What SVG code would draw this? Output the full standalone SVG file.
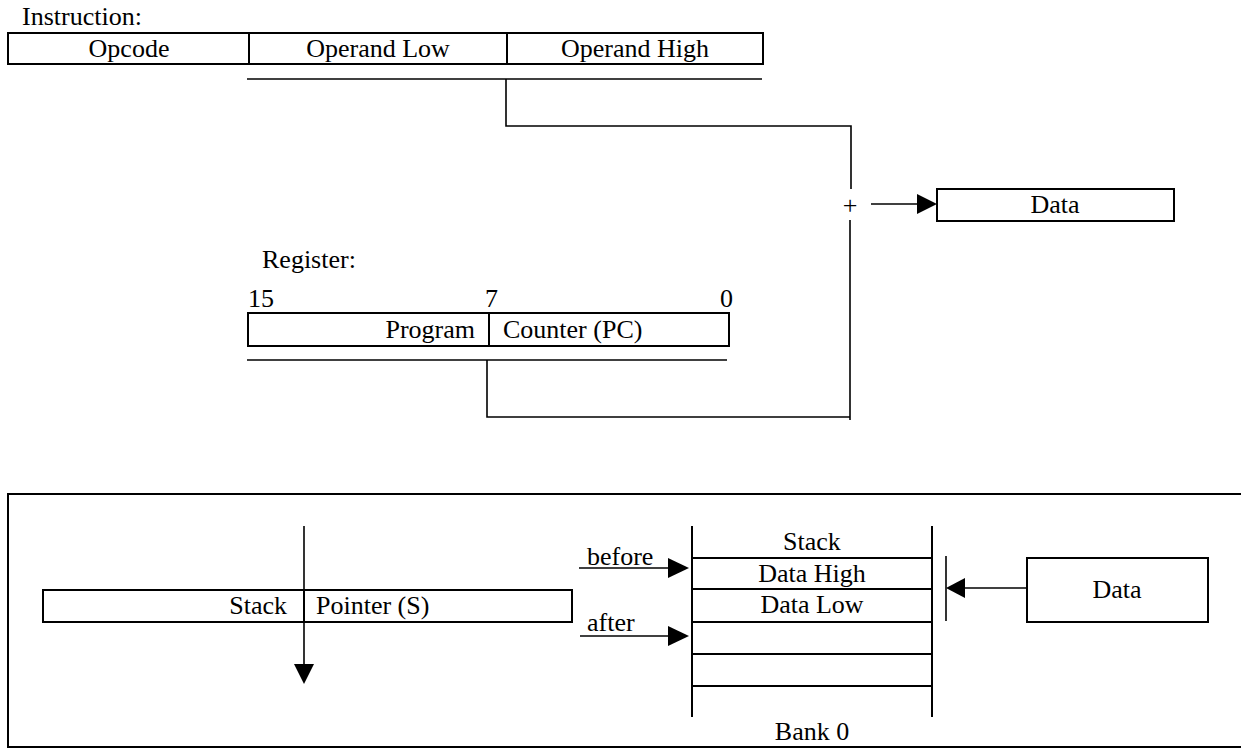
<svg xmlns="http://www.w3.org/2000/svg" width="1241" height="748" viewBox="0 0 1241 748">
<style>
text{font-family:"Liberation Serif","Times New Roman",serif;font-size:26px;fill:#000}
.c{text-anchor:middle}
.e{text-anchor:end}
.box{fill:none;stroke:#000;stroke-width:2}
.ln{fill:none;stroke:#000;stroke-width:1.6}
.ah{fill:#000;stroke:none}
</style>
<rect width="1241" height="748" fill="#fff"/>

<g id="instruction">
<text x="22" y="25">Instruction:</text>
<rect class="box" x="8" y="33" width="755" height="31"/>
<line class="box" x1="249" y1="33" x2="249" y2="64"/>
<line class="box" x1="507" y1="33" x2="507" y2="64"/>
<text class="c" x="129" y="57">Opcode</text>
<text class="c" x="378" y="57">Operand Low</text>
<text class="c" x="635" y="57">Operand High</text>
</g>

<g id="plus">
<text class="c" x="850" y="214">+</text>
</g>

<g id="data-top">
<rect class="box" x="937" y="189" width="237" height="32"/>
<text class="c" x="1055" y="213">Data</text>
</g>

<g id="register">
<text x="262" y="268">Register:</text>
<text x="248" y="307">15</text>
<text x="485" y="307">7</text>
<text class="e" x="733" y="307">0</text>
<rect class="box" x="248" y="313" width="481" height="33"/>
<line class="box" x1="489" y1="313" x2="489" y2="346"/>
<text class="e" x="475" y="338">Program</text>
<text x="503" y="338">Counter (PC)</text>
</g>

<g id="frame">
<polyline class="box" points="1241,494 8,494 8,747 1241,747"/>
</g>

<g id="stack-pointer">
<rect class="box" x="43" y="590" width="529" height="32"/>
<line class="box" x1="304" y1="590" x2="304" y2="622"/>
<text class="e" x="287" y="614">Stack</text>
<text x="316" y="614">Pointer (S)</text>
</g>

<g id="stack-bank">
<line class="box" x1="692" y1="526" x2="692" y2="717"/>
<line class="box" x1="932" y1="526" x2="932" y2="717"/>
<line class="box" x1="692" y1="558" x2="932" y2="558"/>
<line class="box" x1="692" y1="589" x2="932" y2="589"/>
<line class="box" x1="692" y1="622" x2="932" y2="622"/>
<line class="box" x1="692" y1="654" x2="932" y2="654"/>
<line class="box" x1="692" y1="686" x2="932" y2="686"/>
<text class="c" x="812" y="550">Stack</text>
<text class="c" x="812" y="582">Data High</text>
<text class="c" x="812" y="613">Data Low</text>
<text class="c" x="812" y="740">Bank 0</text>
</g>

<g id="data-bottom">
<rect class="box" x="1027" y="558" width="181" height="64"/>
<text class="c" x="1117" y="598">Data</text>
</g>

<g id="labels">
<text x="587" y="565">before</text>
<text x="587" y="631">after</text>
</g>

<g id="connectors">
<line class="ln" x1="247" y1="79" x2="762" y2="79"/>
<polyline class="ln" points="506,79 506,126 851,126 851,189"/>
<line class="ln" x1="850" y1="220" x2="850" y2="420"/>
<line class="ln" x1="247" y1="360" x2="727" y2="360"/>
<polyline class="ln" points="487,360 487,417 850,417"/>
<line class="ln" x1="871" y1="204" x2="918" y2="204"/>
<polygon class="ah" points="917,194 937,204 917,214"/>
<line class="ln" x1="304" y1="526" x2="304" y2="666"/>
<polygon class="ah" points="294,664 314,664 304,684"/>
<line class="ln" x1="579" y1="568" x2="670" y2="568"/>
<polygon class="ah" points="668,558 689,568 668,578"/>
<line class="ln" x1="580" y1="636" x2="670" y2="636"/>
<polygon class="ah" points="668,626 689,636 668,646"/>
<line class="ln" x1="946" y1="556" x2="946" y2="621"/>
<line class="ln" x1="963" y1="588" x2="1027" y2="588"/>
<polygon class="ah" points="946,588 965,578 965,598"/>
</g>
</svg>
